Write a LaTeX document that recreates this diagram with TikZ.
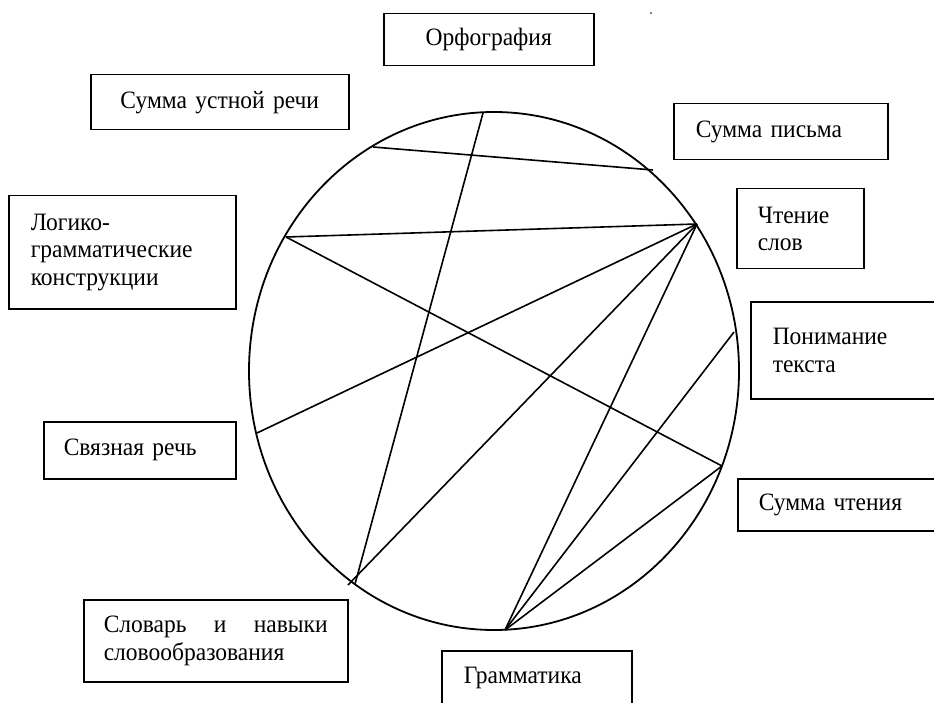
\documentclass[tikz,border=0pt]{standalone}
\usepackage{fontspec}
\setmainfont{Liberation Serif}[FakeStretch=0.94]
\usetikzlibrary{positioning}

\begin{document}
\begin{tikzpicture}[x=1pt, y=-1pt,
    box/.style={draw, line width=1.5pt, anchor=north west, inner ysep=0pt,
      align=left, font=\fontsize{25}{27.5}\selectfont},
    link/.style={line width=1.6pt}
  ]
  \clip (0,0) rectangle (934,703);
  \fill (651,13) circle (0.8);
  % boxes
  \node[box, align=center, inner xsep=10pt, text width=190pt, minimum height=52pt] (orfo) at (383,13) {Орфография};
  \node[box, align=center, inner xsep=10pt, text width=238pt, minimum height=55pt] (ustn) at (90,74) {Сумма устной речи};
  \node[box, inner xsep=22pt, text width=170pt, minimum height=56pt] (pism) at (673,103) {Сумма письма};
  \node[box, inner xsep=21pt, text width=85pt, minimum height=80pt] (chten) at (736,188) {Чтение\\слов};
  \node[box, inner xsep=22pt, text width=160pt, minimum height=97pt] (ponim) at (750,301) {Понимание\\текста};
  \node[box, inner xsep=21pt, text width=170pt, minimum height=52pt] (summ) at (737,478) {Сумма чтения};
  \node[box, inner xsep=22pt, text width=183pt, minimum height=113pt] (logic) at (8,195) {Логико-\\грамматические\\конструкции};
  \node[box, inner xsep=20pt, text width=152pt, minimum height=57pt] (svyaz) at (43,421) {Связная речь};
  \node[box, inner xsep=20pt, text width=224pt, minimum height=82pt] (slovar) at (83,599) {Словарь\hfill и\hfill навыки\\словообразования};
  \node[box, inner xsep=22pt, text width=146pt, minimum height=54pt] (gram) at (441,650) {Грамматика};
  % circle
  \draw[line width=1.8pt] (494,371) ellipse [x radius=245, y radius=259];
  % points on the circle
  \coordinate (ustnP) at (373,147);
  \coordinate (pismP) at (653,170);
  \coordinate (orfoP) at (483,113);
  \coordinate (chtenP) at (697,224);
  \coordinate (logicP) at (286,237);
  \coordinate (svyazP) at (257,433);
  \coordinate (slovA) at (355,584);
  \coordinate (slovB) at (348,585);
  \coordinate (gramP) at (505,630);
  \coordinate (ponimP) at (734,332);
  \coordinate (summP) at (722,466);
  \foreach \a/\b in {ustnP/pismP, orfoP/slovA, chtenP/logicP, chtenP/svyazP,
      chtenP/slovB, chtenP/gramP, logicP/summP, ponimP/gramP, summP/gramP} {
    \draw[link] (\a) -- (\b);
  }
\end{tikzpicture}
\end{document}
